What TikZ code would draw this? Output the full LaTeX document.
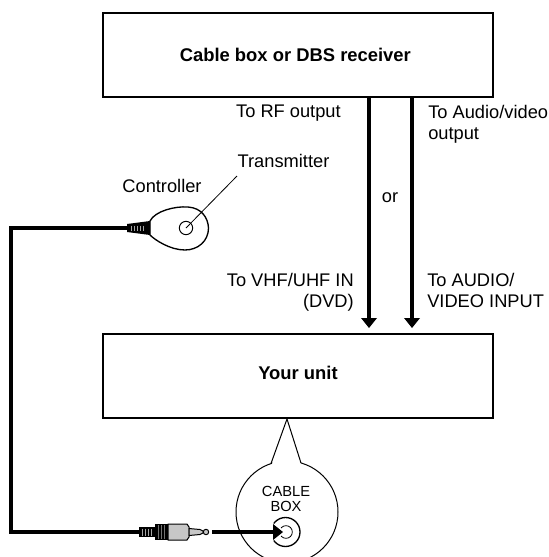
\documentclass[tikz,border=0pt]{standalone}
\usepackage{fontspec}
\setmainfont{Liberation Sans}
\tikzset{
  unitbox/.style={draw=black,line width=1.5pt,fill=white,minimum width=292.5pt,minimum height=63pt,inner sep=0pt,font=\bfseries\fontsize{13.8}{16}\selectfont},
  lab/.style={font=\fontsize{13.7}{15.8}\selectfont,inner sep=0pt,align=left,anchor=north west},
  labr/.style={lab,align=right,anchor=north east},
  thinl/.style={draw=black,line width=0.75pt},
  cable/.style={draw=black,line width=3.2pt},
  bigarrow/.style={draw=black,line width=3.2pt},
  headfill/.style={fill=black,draw=none}
}
\begin{document}
\begin{tikzpicture}[x=0.75pt,y=-0.75pt]
\useasboundingbox (0,0) rectangle (549,557);
\node[unitbox] (top) at (298,55) {\hspace*{-4pt}Cable box or DBS receiver};
\node[unitbox] (unit) at (298,375.5) {\raisebox{3.5pt}{Your unit}};
% arrows
\coordinate (a1) at (369,320);
\coordinate (a2) at (412,320);
\draw[bigarrow] (top.south -| a1) -- (a1);
\draw[bigarrow] (top.south -| a2) -- (a2);
\fill[headfill] (361,318) -- (377,318) -- (369,328) -- cycle;
\fill[headfill] (404,318) -- (420,318) -- (412,328) -- cycle;
% labels
\node[labr] (l1) at (341,105) {To RF output};
\node[lab] (l2) at (428,105) {To Audio/video\\output};
\node[lab,anchor=center] (l3) at (390,198) {or};
\node[labr] (l4) at (354,273) {To VHF/UHF IN\\(DVD)};
\node[lab] (l5) at (427,273) {To AUDIO/\\VIDEO INPUT};
\node[lab,anchor=center] (ctl) at (162,186) {Controller};
\node[lab,anchor=center] (tr) at (283.5,160.5) {Transmitter};
% bubble
\begin{scope}
\clip (0,0) rectangle (549,557);
\draw[thinl,fill=white] (287,512) circle[radius=51];
\fill[white] (272,464) -- (287,425) -- (301,464) -- (287,470) -- cycle;
\coordinate (bl) at (271,463.5);
\coordinate (bt) at (287,419);
\coordinate (br) at (301,463);
\draw[thinl,line join=miter] (bl) -- (bt) -- (br);
\end{scope}
\node[font=\fontsize{11}{11.2}\selectfont,align=center,inner sep=0pt] (cb) at (286,499) {CABLE\\BOX};
\node[circle,draw=black,line width=1pt,minimum size=21.75pt,inner sep=0pt] (jo) at (285.5,532) {};
\node[circle,draw=black,line width=0.6pt,minimum size=9.5pt,inner sep=0pt] (jack) at (286,532) {};
% controller
\path[draw=black,line width=1pt,fill=white] (150,221) .. controls (155,211) and (175,206) .. (188,207)
  .. controls (202,208) and (208,218) .. (208.5,228)
  .. controls (208.5,241) and (198,250) .. (185,250)
  .. controls (170,250) and (155,240) .. (150,235) -- cycle;
\node[circle,thinl,minimum size=10pt,inner sep=0pt] (tx) at (186,228) {};
\coordinate (tl) at (237,176);
\draw[line width=0.6pt] (tl) -- (tx.center);
% strain relief
\fill[black] (127,224) -- (150,221) -- (150,235) -- (127,232) -- cycle;
\foreach \x in {131,134,137,140,143,146} \draw[white!65!black,line width=0.6pt] (\x,225.5) -- (\x,230.5);
\draw[black,line width=0.6pt] (146.5,222) -- (146.5,234);
% cable
\coordinate (c0) at (128,228);
\coordinate (c1) at (11,228);
\coordinate (c2) at (11,532);
\coordinate (c3) at (140,532);
\draw[cable,line join=miter] (c0) -- (c1) -- (c2) -- (c3);
% plug
\fill[black] (139,527) rectangle (155,537);
\foreach \x in {142,145,148,151} \draw[white!65!black,line width=0.6pt] (\x,528.5) -- (\x,535.5);
\fill[black] (155,524) rectangle (168,540);
\foreach \x in {158,161,164} \draw[white!45!black,line width=0.6pt] (\x,525) -- (\x,539);
\draw[black,line width=0.75pt,fill=black!22] (168,524) -- (187,524) -- (189,527) -- (189,537) -- (187,540) -- (168,540) -- cycle;
\draw[black,line width=0.75pt,fill=black!22] (189,528.5) -- (200,529.5) -- (203,531) -- (203,533) -- (200,534.5) -- (189,535.5) -- cycle;
\draw[black,line width=0.75pt,fill=black!22] (206,532) circle[radius=2.7];
\coordinate (c4) at (212,532);
\coordinate (c5) at (275,532);
\fill[white] (268,520) -- (287,532) -- (268,544) -- cycle;
\draw[cable] (c4) -- (c5);
\fill[headfill] (273,524) -- (283,532) -- (273,540) -- cycle;
\end{tikzpicture}
\end{document}
